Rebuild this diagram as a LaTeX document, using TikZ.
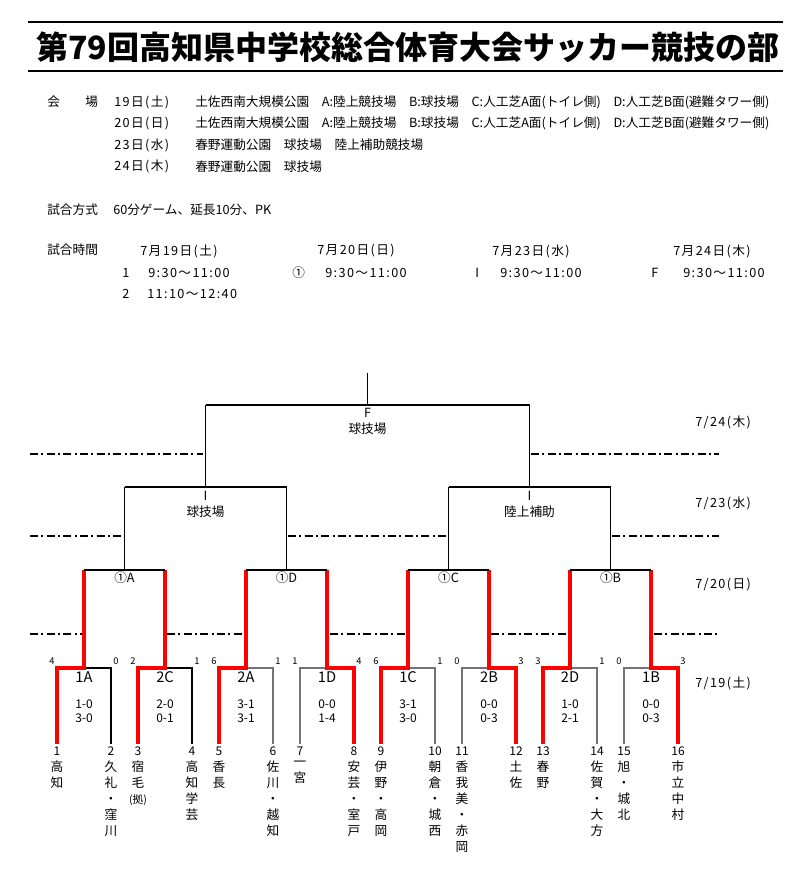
\documentclass[tikz,border=0pt]{standalone}
\usepackage{fontspec}
\newfontfamily\cjk{Noto Sans CJK JP}
\usetikzlibrary{positioning}

\tikzset{
  win/.style={draw=red, line width=3pt},
  brk/.style={draw=black, line width=0.9pt},
  lose/.style={line width=0.9pt},
  daysep/.style={line width=1.6pt, dash pattern=on 6pt off 2.5pt on 1.5pt off 2.5pt},
  txt/.style={inner sep=0pt, anchor=west},
  wide/.style={txt, font=\cjk\fontsize{9.5}{12}\selectfont\addfontfeature{LetterSpace=11}},
  score/.style={inner sep=0pt, font=\cjk\fontsize{7}{8}\selectfont},
  half/.style={inner sep=0pt, font=\cjk\fontsize{9}{10}\selectfont},
  team/.style={inner sep=0pt, align=center, anchor=north},
}

\begin{document}
\begin{tikzpicture}[x=0.75pt, y=-0.75pt, font=\cjk\fontsize{9.5}{12}\selectfont]
% page in pixel units of the sheet, y downwards
\useasboundingbox (0,0) rectangle (811,883);

% title between two rules
\draw[line width=1.5pt] (28,22) -- (783,22);
\draw[line width=1.5pt] (28,71) -- (783,71);
\node[font=\cjk\bfseries\fontsize{24}{24}\selectfont] (title) at (408,47)
  {第79回高知県中学校総合体育大会サッカー競技の部};

% venues
\node[txt] (venue) at (47,102) {会　　場};
\node[wide] (d19) at (114,102) {19日(土)};
\node[txt] (v19) at (195,102) {土佐西南大規模公園　A:陸上競技場　B:球技場　C:人工芝A面(トイレ側)　D:人工芝B面(避難タワー側)};
\node[wide] (d20) at (114,123.5) {20日(日)};
\node[txt] (v20) at (195,123.5) {土佐西南大規模公園　A:陸上競技場　B:球技場　C:人工芝A面(トイレ側)　D:人工芝B面(避難タワー側)};
\node[wide] (d23) at (114,145) {23日(水)};
\node[txt] (v23) at (195,145) {春野運動公園　球技場　陸上補助競技場};
\node[wide] (d24) at (114,166.5) {24日(木)};
\node[txt] (v24) at (195,166.5) {春野運動公園　球技場};

% format and kick-off times
\node[txt] (fmt) at (47,210) {試合方式};
\node[txt] (fmtv) at (113,210) {60分ゲーム、延長10分、PK};
\node[txt] (time) at (47,250) {試合時間};
\node[wide] (t19) at (140,251) {7月19日(土)};
\node[wide] (t20) at (317,251) {7月20日(日)};
\node[wide] (t23) at (492,251) {7月23日(水)};
\node[wide] (t24) at (673,251) {7月24日(木)};
\node[txt] (k1) at (122,273) {1};
\node[wide] (k1t) at (148,273) {9:30～11:00};
\node[txt] (k2) at (292,273) {①};
\node[wide] (k2t) at (325,273) {9:30～11:00};
\node[txt] (k3) at (475,273) {I};
\node[wide] (k3t) at (500,273) {9:30～11:00};
\node[txt] (k4) at (651,273) {F};
\node[wide] (k4t) at (683,273) {9:30～11:00};
\node[txt] (k5) at (122,294) {2};
\node[wide] (k5t) at (147,294) {11:10～12:40};

% day separators (broken where the bracket boxes sit)
\draw[daysep] (30,454) -- (203,454) (531,454) -- (719,454);
\draw[daysep] (30,536) -- (123,536) (288,536) -- (446,536) (612,536) -- (719,536);
\draw[daysep] (30,634) -- (82,634) (167,634) -- (244,634) (330,634) -- (406,634)
  (491,634) -- (568,634) (654,634) -- (719,634);

% day labels
\node[wide] (day24) at (695,422) {7/24(木)};
\node[wide] (day23) at (695,503) {7/23(水)};
\node[wide] (day20) at (695,585) {7/20(日)};
\node[wide] (day19) at (695,683) {7/19(土)};

% first round, 19th
\foreach \lab/\scl/\scr/\ha/\hb/\wn/\ls/\lc [count=\i] in
  {1A/4/0/1-0/3-0/l/r/black, 2C/2/1/2-0/0-1/l/r/black,
   2A/6/1/3-1/3-1/l/r/black!55, 1D/1/4/0-0/1-4/r/l/black!55,
   1C/6/1/3-1/3-0/l/r/black!55, 2B/0/3/0-0/0-3/r/l/black!55,
   2D/3/1/1-0/2-1/l/r/black!55, 1B/0/3/0-0/0-3/r/l/black!55}{
  \pgfmathsetmacro{\cx}{84+81*(\i-1)}
  \coordinate (m\i) at (\cx,668);
  \coordinate (mu\i) at (\cx,570);
  \coordinate (bl\i) at (\cx-27,744);
  \coordinate (br\i) at (\cx+27,744);
  \draw[lose, draw=\lc] (b\ls\i) |- (m\i);
  \draw[win] (b\wn\i) |- (m\i) -- (mu\i);
  \node[score] (sl\i) at (\cx-32,661) {\scl};
  \node[score] (sr\i) at (\cx+32,661) {\scr};
  \node[inner sep=0pt, font=\cjk\fontsize{11}{12}\selectfont] (lab\i) at (\cx,677) {\lab};
  \node[half] (ha\i) at (\cx,704) {\ha};
  \node[half] (hb\i) at (\cx,718) {\hb};
}

% teams
\foreach \nm [count=\k] in
  {{高\\知}, {久\\礼\\・\\窪\\川}, {宿\\毛\\{\fontsize{8}{10}\selectfont(拠)}}, {高\\知\\学\\芸},
   {香\\長}, {佐\\川\\・\\越\\知}, {一\\宮}, {安\\芸\\・\\室\\戸},
   {伊\\野\\・\\高\\岡}, {朝\\倉\\・\\城\\西}, {香\\我\\美\\・\\赤\\岡}, {土\\佐},
   {春\\野}, {佐\\賀\\・\\大\\方}, {旭\\・\\城\\北}, {市\\立\\中\\村}}{
  \pgfmathsetmacro{\tx}{84+81*floor((\k-1)/2)+54*mod(\k+1,2)-27}
  \node[inner sep=0pt, font=\cjk\fontsize{9}{10}\selectfont] (n\k) at (\tx,751) {\k};
  \node[team] (name\k) at (\tx,761) {\nm};
}

% quarter finals, 20th
\foreach \lab [count=\j] in {A,D,C,B}{
  \pgfmathtruncatemacro{\ia}{2*\j-1}
  \pgfmathtruncatemacro{\ib}{2*\j}
  \pgfmathsetmacro{\qx}{124.5+162*(\j-1)}
  \coordinate (q\j) at (\qx,570);
  \coordinate (qu\j) at (\qx,487);
  \draw[brk] (mu\ia) -- (mu\ib);
  \draw[brk] (q\j) -- (qu\j);
  \node[inner sep=0pt] (ql\j) at (\qx,578) {①\lab};
}

% semi finals, 23rd
\coordinate (s1) at (205.5,487);
\coordinate (su1) at (205.5,405);
\coordinate (s2) at (529.5,487);
\coordinate (su2) at (529.5,405);
\draw[brk] (qu1) -- (qu2) (s1) -- (su1);
\draw[brk] (qu3) -- (qu4) (s2) -- (su2);
\node[inner sep=0pt] (si1) at (205.5,496) {I};
\node[inner sep=0pt] (sv1) at (205.5,512) {球技場};
\node[inner sep=0pt] (si2) at (529.5,496) {I};
\node[inner sep=0pt] (sv2) at (529.5,512) {陸上補助};

% final, 24th
\coordinate (f) at (367.5,405);
\coordinate (ftop) at (367.5,373);
\draw[brk] (su1) -- (su2) (f) -- (ftop);
\node[inner sep=0pt] (fl) at (367.5,413) {F};
\node[inner sep=0pt] (fv) at (367.5,429) {球技場};
\end{tikzpicture}
\end{document}
